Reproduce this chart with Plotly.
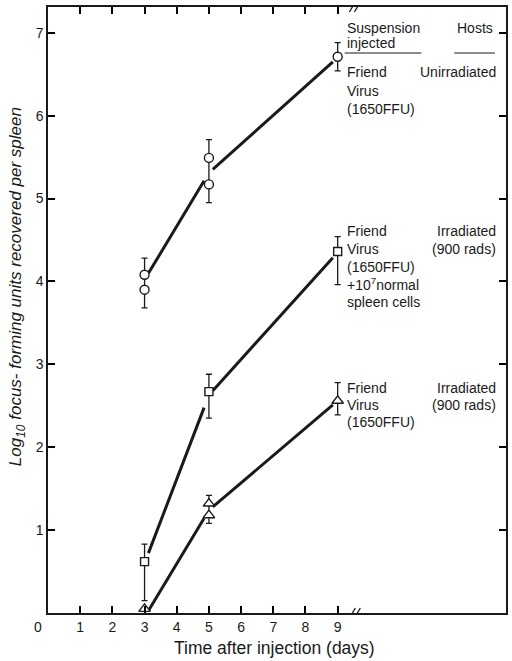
import plotly.graph_objects as go

# ---------------- data ----------------
days = [3, 5, 9]

# Unirradiated hosts, Friend virus (circles)
circ_x = [3, 3, 5, 5, 9]
circ_y = [4.08, 3.90, 5.49, 5.17, 6.71]
circ_err_top = [4.28, 5.71, 6.88]
circ_err_bot = [3.68, 4.95, 6.54]
circ_fit = [4.02, 5.31, 6.70]

# Irradiated hosts, virus + 10^7 normal spleen cells (squares)
sq_x = [3, 5, 9]
sq_y = [0.62, 2.67, 4.36]
sq_err_top = [0.83, 2.88, 4.54]
sq_err_bot = [0.15, 2.35, 3.96]
sq_fit = [0.60, 2.63, 4.35]

# Irradiated hosts, Friend virus (triangles)
tri_x = [3, 5, 5, 9]
tri_y = [0.05, 1.32, 1.18, 2.56]
tri_err_days = [5, 9]
tri_err_top = [1.42, 2.78]
tri_err_bot = [1.08, 2.39]
tri_fit = [-0.05, 1.24, 2.56]

x_ticks = [1, 2, 3, 4, 5, 6, 7, 8, 9]
y_ticks = [1, 2, 3, 4, 5, 6, 7]

# ---------------- layout constants ----------------
W, H = 512, 661
L, R, T, B = 48, 4, 7, 48
X_MAX = 14.23
Y_MAX = 7.31
FONT = "Liberation Sans"
INK = "#1a1a1a"
TICK = 7

fig = go.Figure()


def add_fit(fit, gap0=0.12, gap1=0.15):
    for i in range(len(days) - 1):
        d0, d1 = days[i], days[i + 1]
        v0, v1 = fit[i], fit[i + 1]
        s, e = d0 + gap0, d1 - gap1
        f = lambda d: v0 + (v1 - v0) * (d - d0) / (d1 - d0)
        fig.add_trace(go.Scatter(x=[s, e], y=[f(s), f(e)], mode="lines",
                                 line=dict(color=INK, width=3),
                                 showlegend=False, hoverinfo="skip"))


def add_err(xs, top, bot):
    fig.add_trace(go.Scatter(
        x=xs, y=top, mode="markers",
        marker=dict(size=1, color="rgba(0,0,0,0)"),
        error_y=dict(type="data", symmetric=False,
                     array=[0] * len(top),
                     arrayminus=[t - b for t, b in zip(top, bot)],
                     color=INK, thickness=1.3, width=3),
        showlegend=False, hoverinfo="skip", cliponaxis=False))


def add_pts(xs, ys, symbol, size):
    fig.add_trace(go.Scatter(
        x=xs, y=ys, mode="markers",
        marker=dict(symbol=symbol, size=size, color="white",
                    line=dict(color=INK, width=1.4)),
        showlegend=False, cliponaxis=False))


add_fit(circ_fit)
add_fit(sq_fit)
add_fit(tri_fit)
add_err(days, circ_err_top, circ_err_bot)
add_err(days, sq_err_top, sq_err_bot)
add_err(tri_err_days, tri_err_top, tri_err_bot)
add_pts(circ_x, circ_y, "circle", 9)
add_pts(sq_x, sq_y, "square", 8)
add_pts(tri_x, tri_y, "triangle-up", 10)

axis_style = dict(tickmode="array", ticks="inside", ticklen=TICK, tickwidth=2,
                  tickcolor="#000000", showline=True, linecolor=INK,
                  linewidth=1.5, mirror="ticks", showgrid=False,
                  zeroline=False,
                  tickfont=dict(family=FONT, size=14, color=INK))
fig.update_layout(
    xaxis=dict(range=[0, X_MAX], tickvals=x_ticks,
               ticktext=[str(v) for v in x_ticks], **axis_style),
    yaxis=dict(range=[0, Y_MAX], tickvals=y_ticks,
               ticktext=[str(v) for v in y_ticks], **axis_style),
)


def P(x, y):
    return (x - L) / (W - L - R), (H - B - y) / (H - T - B)


ann = []


def txt(text, x, y, anchor="left", size=14, **kw):
    px_, py_ = P(x, y)
    d = dict(text=text, x=px_, y=py_, xref="paper", yref="paper",
             xanchor=anchor, yanchor="middle", showarrow=False,
             font=dict(family=FONT, size=size, color=INK))
    d.update(kw)
    ann.append(d)


LX, RX = 346, 500
txt("Suspension", LX, 28)
txt("injected", LX, 43)
txt("Hosts", 497, 28, anchor="right")
txt("Friend", LX, 72)
txt("Unirradiated", RX, 72, anchor="right")
txt("Virus", LX, 91)
txt("(1650FFU)", LX, 109)

txt("Friend", LX, 231)
txt("Irradiated", RX, 231, anchor="right")
txt("Virus", LX, 249)
txt("(900 rads)", RX, 249, anchor="right")
txt("(1650FFU)", LX, 267)
txt("+10<sup>7</sup>normal", LX, 284)
txt("spleen cells", LX, 302)

txt("Friend", LX, 388)
txt("Irradiated", RX, 388, anchor="right")
txt("Virus", LX, 405)
txt("(900 rads)", RX, 405, anchor="right")
txt("(1650FFU)", LX, 422)

txt("0", 38, 627, anchor="center")
txt("Time after injection (days)", 275, 648, anchor="center", size=17.5)
px_, py_ = P(17, 287)
ann.append(dict(text="Log<sub>10</sub> focus- forming units recovered per spleen",
                x=px_, y=py_, xref="paper", yref="paper", textangle=-90,
                xanchor="center", yanchor="middle", showarrow=False,
                font=dict(family=FONT, size=17, color=INK, style="italic")))

shapes = []
for (a, b) in [(346, 423), (456, 497)]:
    x0, y0 = P(a, 53)
    x1, _ = P(b, 53)
    shapes.append(dict(type="line", xref="paper", yref="paper", x0=x0, x1=x1,
                       y0=y0, y1=y0, line=dict(color=INK, width=1.2)))
# axis break marks "//" on bottom and top axes
for yv in [0, Y_MAX]:
    for off in [-3, 2]:
        shapes.append(dict(type="line", xref="x", yref="y", xsizemode="pixel",
                           ysizemode="pixel", xanchor=9.55, yanchor=yv,
                           x0=off - 3, x1=off + 3, y0=-5, y1=5,
                           line=dict(color=INK, width=1.3)))
# small downward mark under the day-3 triangle (below detection)
shapes.append(dict(type="path", xref="x", yref="y", xsizemode="pixel",
                   ysizemode="pixel", xanchor=3, yanchor=0,
                   path="M -2,-5 L 2,-5 L 0,-8 Z",
                   fillcolor=INK, line=dict(color=INK, width=1)))

fig.update_layout(width=W, height=H, margin=dict(l=L, r=R, t=T, b=B),
                  paper_bgcolor="white", plot_bgcolor="white",
                  annotations=ann, shapes=shapes, showlegend=False)

fig.write_html("out.html", config={"displayModeBar": False},
               post_script="document.body.style.margin='0';")
